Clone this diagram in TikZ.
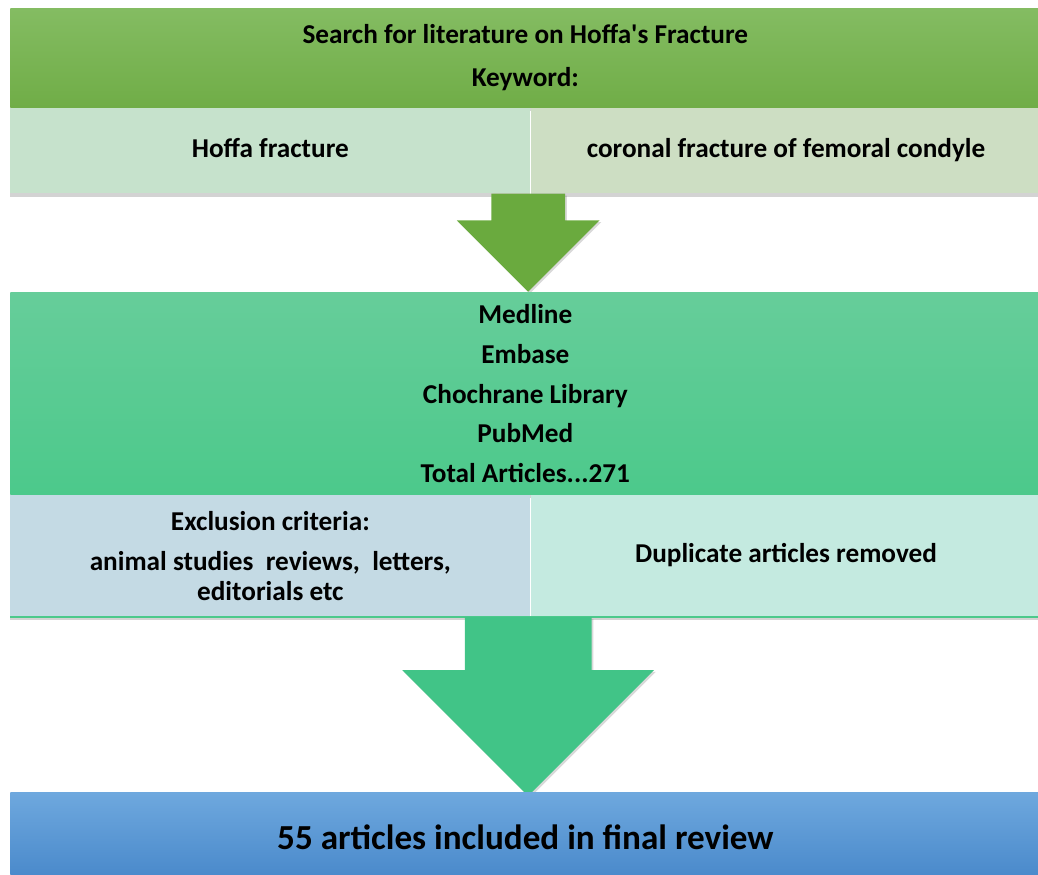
\documentclass[tikz,border=0pt]{standalone}
\usepackage{fontspec}
\setmainfont{Carlito}
\usetikzlibrary{positioning,shapes.arrows,shadows}

\definecolor{searchtop}{RGB}{132,188,98}
\definecolor{searchbot}{RGB}{112,173,71}
\definecolor{hoffafill}{RGB}{198,226,204}
\definecolor{coronalfill}{RGB}{205,222,195}
\definecolor{arrowone}{RGB}{106,170,62}
\definecolor{dbtop}{RGB}{102,205,154}
\definecolor{dbbot}{RGB}{76,201,139}
\definecolor{exclfill}{RGB}{196,218,228}
\definecolor{dupfill}{RGB}{196,234,224}
\definecolor{arrowtwo}{RGB}{65,196,135}
\definecolor{finaltop}{RGB}{110,168,222}
\definecolor{finalbot}{RGB}{72,136,202}

\begin{document}
\begin{tikzpicture}
[box/.style={anchor=north west, minimum width=20.6cm, inner sep=0pt, align=center,
   drop shadow={shadow xshift=0pt, shadow yshift=-2pt, opacity=.35}},
 cell/.style={anchor=north west, inner sep=0pt, align=center,
   drop shadow={shadow xshift=0pt, shadow yshift=-2pt, opacity=.35}},
 oneline/.style={text height=0.95em, text depth=0.2em},
 flowarrow/.style={single arrow, rotate=-90, anchor=tail, inner xsep=0pt,
   single arrow tip angle=90,
   drop shadow={shadow xshift=1pt, shadow yshift=-1pt, opacity=.3}},
 normaltext/.style={font=\fontsize{15.5}{22.7}\selectfont\bfseries},
]
\useasboundingbox (0,0) rectangle (20.76,17.5);

% keyword search
\node[box, minimum height=1.98cm,
  top color=searchtop, bottom color=searchbot, font=\fontsize{15.5}{24.4}\selectfont\bfseries]
  (search) at (0.2,17.34) {Search for literature on Hoffa\textquotesingle s Fracture\\Keyword:};
\node[cell, normaltext, oneline, fill=hoffafill, minimum width=10.4cm, minimum height=1.7cm]
  (hoffa) at (search.south west) {Hoffa fracture};
\node[cell, normaltext, oneline, fill=coronalfill, minimum width=10.2cm, minimum height=1.7cm]
  (coronal) at (hoffa.north east) {coronal fracture of femoral condyle};

\node[flowarrow, fill=arrowone, minimum height=1.96cm, inner ysep=0.73cm,
  single arrow head extend=0.69cm] (arr1) at ([xshift=-0.05cm]hoffa.south east) {};

% databases
\node[box, normaltext, minimum height=4.04cm, top color=dbtop, bottom color=dbbot]
  (db) at (arr1.tip -| search.west)
  {Medline\\Embase\\Chochrane Library\\PubMed\\Total Articles...271};
\node[cell, fill=exclfill, minimum width=10.4cm, minimum height=2.42cm,
  font=\fontsize{15.5}{17}\selectfont\bfseries]
  (excl) at (db.south west)
  {Exclusion criteria:\\[5.7pt] animal studies\ \ reviews,\ \ letters,\\ editorials etc};
\node[cell, normaltext, oneline, fill=dupfill, minimum width=10.2cm, minimum height=2.42cm]
  (dup) at (excl.north east) {Duplicate articles removed};
\draw[dbbot, line width=1.2pt] (excl.south west) -- (dup.south east);

\node[flowarrow, fill=arrowtwo, minimum height=3.58cm, inner ysep=1.26cm,
  single arrow head extend=1.25cm] (arr2) at ([xshift=-0.05cm]excl.south east) {};

% result
\node[box, minimum height=1.76cm, top color=finaltop, bottom color=finalbot,
  font=\fontsize{20}{24}\selectfont\bfseries]
  (final) at ([yshift=0.08cm]arr2.tip -| db.west) {55 articles included in final review};
\end{tikzpicture}
\end{document}
